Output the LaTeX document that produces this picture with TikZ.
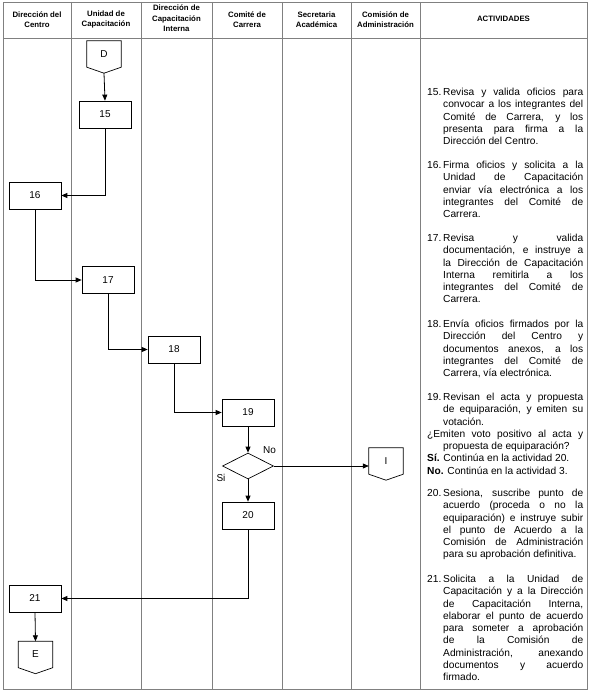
\documentclass[tikz,border=0pt]{standalone}
\usepackage{fontspec}
\setmainfont{Liberation Sans}
\usetikzlibrary{arrows.meta,shapes.geometric,calc}
\newcommand\actitem[2]{\par\hangindent=16pt\hangafter=1\noindent\strut\makebox[16pt][l]{#1}#2\par}
\newcommand\actsetup{\parindent=0pt\leftskip=0pt\rightskip=0pt\parfillskip=0pt plus 1fil\hyphenpenalty=10000\tolerance=10000\hbadness=10000\emergencystretch=0pt}
\begin{document}
\begin{tikzpicture}[x=1pt,y=-1pt,
  gridline/.style={draw=black!50,line width=0.7pt},
  hdr/.style={align=center,font=\fontsize{7.8}{10.5}\selectfont\bfseries,inner sep=0pt},
  box/.style={draw,line width=0.7pt,minimum width=52pt,minimum height=27pt,inner sep=0pt,font=\fontsize{10}{12}\selectfont},
  dec/.style={draw,line width=0.7pt,diamond,aspect=2,minimum width=51pt,minimum height=26pt,inner sep=0pt},
  offpage/.style={minimum width=34pt,minimum height=26pt,inner sep=0pt,font=\fontsize{10}{12}\selectfont},
  arr/.style={line width=0.8pt,-{Triangle[length=6pt,width=5pt]}},
  lbl/.style={font=\fontsize{10}{12}\selectfont,inner sep=0pt},
  act/.style={anchor=north west,text width=156pt,align=justify,inner sep=0pt,font=\fontsize{10.2}{12.25}\selectfont}
]
\useasboundingbox (0,0) rectangle (590,695);
% grid
\draw[gridline] (3,2) rectangle (587,689);
\foreach \x in {71,141,212,282,351,420} \draw[gridline] (\x,2) -- (\x,689);
\draw[gridline] (3,38) -- (587,38);
% headers
\node[hdr] (h1) at (37,19.5) {Dirección del\\Centro};
\node[hdr] (h2) at (106,19.5) {Unidad de\\Capacitación};
\node[hdr] (h3) at (176.5,18.5) {Dirección de\\Capacitación\\Interna};
\node[hdr] (h4) at (247,19.5) {Comité de\\Carrera};
\node[hdr] (h5) at (316.5,19.5) {Secretaria\\Académica};
\node[hdr] (h6) at (385.5,19.5) {Comisión de\\Administración};
\node[hdr] (h7) at (503.5,18.5) {ACTIVIDADES};
% flow nodes
\node[offpage] (D) at (104,54) {D};
\node[box] (n15) at (105,114.5) {15};
\node[box] (n16) at (35,195.5) {16};
\node[box] (n17) at (108,280) {17};
\node[box] (n18) at (174,349.5) {18};
\node[box] (n19) at (248,412.5) {19};
\node[dec] (dia) at (248,466) {};
\node[box] (n20) at (248,515.5) {20};
\node[box] (n21) at (35,598.5) {21};
\node[offpage] (I) at (386,461) {I};
\node[offpage] (E) at (35.5,654.5) {E};
\foreach \n in {D,I,E}
  \draw[line width=0.7pt] (\n.north west) -- (\n.north east) -- (\n.south east) -- ([yshift=-6pt]\n.south) -- (\n.south west) -- cycle;
\coordinate (Dtip) at ([yshift=-6pt]D.south);
\node[lbl] (no) at (269.5,450) {No};
\node[lbl] (si) at (221,478) {Si};
% connectors
\draw[arr] (Dtip) -- (n15.north);
\draw[arr] (n15.south) |- (n16.east);
\draw[arr] (n16.south) |- (n17.west);
\draw[arr] (n17.south) |- (n18.west);
\draw[arr] (n18.south) |- (n19.west);
\draw[arr] (n19.south) -- (dia.north);
\draw[arr] (dia.south) -- (n20.north);
\draw[arr] (dia.east) -- (dia.east -| I.west);
\draw[arr] (n20.south) |- (n21.east);
\draw[arr] (n21.south) -- (E.north);
% activities
\node[act] (a15) at (427,83.1) {\actsetup\actitem{15.}{Revisa y valida oficios para\linebreak convocar a los integrantes del\linebreak Comité de Carrera, y los\linebreak presenta para firma a la\linebreak Dirección del Centro.}};
\node[act] (a16) at (427,156.1) {\actsetup\actitem{16.}{Firma oficios y solicita a la\linebreak Unidad de Capacitación\linebreak enviar vía electrónica a los\linebreak integrantes del Comité de\linebreak Carrera.}};
\node[act] (a17) at (427,229.1) {\actsetup\actitem{17.}{Revisa y valida\linebreak documentación, e instruye a\linebreak la Dirección de Capacitación\linebreak Interna remitirla a los\linebreak integrantes del Comité de\linebreak Carrera.}};
\node[act] (a18) at (427,315.1) {\actsetup\actitem{18.}{Envía oficios firmados por la\linebreak Dirección del Centro y\linebreak documentos anexos, a los\linebreak integrantes del Comité de\linebreak Carrera, vía electrónica.}};
\node[act] (a19) at (427,388.1) {\actsetup\actitem{19.}{Revisan el acta y propuesta\linebreak de equiparación, y emiten su\linebreak votación.}%
\hangindent=16pt\hangafter=1\noindent ¿Emiten voto positivo al acta y\linebreak propuesta de equiparación?\par
\noindent\textbf{Sí.} Continúa en la actividad 20.\par
\noindent\textbf{No.} Continúa en la actividad 3.\par};
\node[act] (a20) at (427,484.1) {\actsetup\actitem{20.}{Sesiona, suscribe punto de\linebreak acuerdo (proceda o no la\linebreak equiparación) e instruye subir\linebreak el punto de Acuerdo a la\linebreak Comisión de Administración\linebreak para su aprobación definitiva.}};
\node[act] (a21) at (427,570.1) {\actsetup\actitem{21.}{Solicita a la Unidad de\linebreak Capacitación y a la Dirección\linebreak de Capacitación Interna,\linebreak elaborar el punto de acuerdo\linebreak para someter a aprobación\linebreak de la Comisión de\linebreak Administración, anexando\linebreak documentos y acuerdo\linebreak firmado.}};
\end{tikzpicture}
\end{document}
